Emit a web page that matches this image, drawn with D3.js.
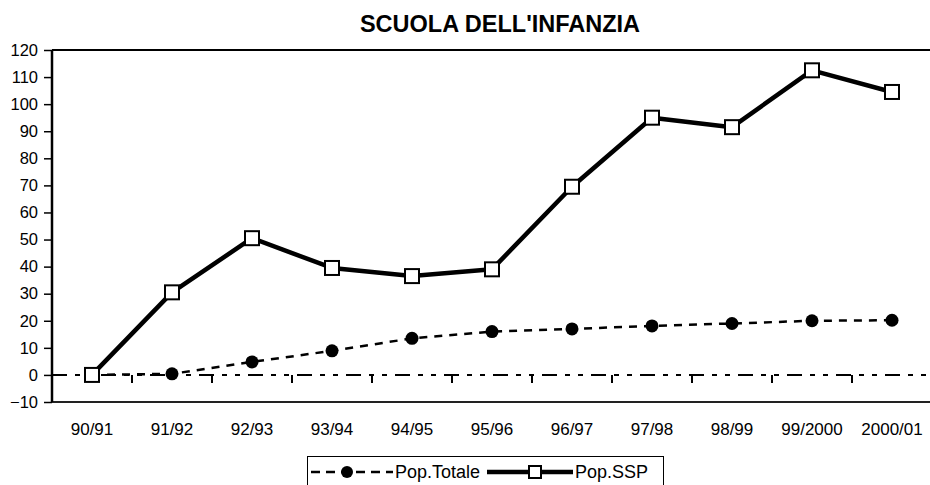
<!DOCTYPE html>
<html>
<head>
<meta charset="utf-8">
<script src="https://cdn.jsdelivr.net/npm/d3@7"></script>
<style>
  body { margin: 0; background: #fff; }
  svg { display: block; font-family: Arial, "Liberation Sans", sans-serif; }
</style>
</head>
<body>
<svg id="chart" width="930" height="485"></svg>
<script>
const categories = ['90/91', '91/92', '92/93', '93/94', '94/95', '95/96', '96/97', '97/98', '98/99', '99/2000', '2000/01'];
const popTotale = [0, 0.4, 4.8, 8.9, 13.5, 16, 17, 18.1, 19, 20, 20.2];
const popSSP = [0, 30.5, 50.5, 39.5, 36.5, 39, 69.5, 95, 91.5, 112.5, 104.5];
const yTicks = d3.range(-10, 121, 10);

const svg = d3.select('#chart');
const margin = { top: 50, right: -2, bottom: 83, left: 52 };
const width = 930 - margin.left - margin.right;
const height = 485 - margin.top - margin.bottom;

const x = d3.scaleBand().domain(categories).range([margin.left, margin.left + width]).padding(0);
const y = d3.scaleLinear().domain([-10, 120]).range([margin.top + height, margin.top]);
const cx = d => x(d) + x.bandwidth() / 2;

// title
svg.append('text')
  .attr('x', 500)
  .attr('y', 32)
  .attr('text-anchor', 'middle')
  .style('font-size', '23.5px')
  .style('font-weight', 'bold')
  .text("SCUOLA DELL'INFANZIA");

// plot frame: top and bottom lines
svg.append('line')
  .attr('x1', margin.left).attr('x2', 930)
  .attr('y1', y(120)).attr('y2', y(120))
  .attr('stroke', '#000').attr('stroke-width', 2);
svg.append('line')
  .attr('x1', margin.left).attr('x2', 930)
  .attr('y1', y(-10)).attr('y2', y(-10))
  .attr('stroke', '#222').attr('stroke-width', 2);

// y axis
const yAxis = svg.append('g')
  .attr('transform', `translate(${margin.left},0)`)
  .call(d3.axisLeft(y).tickValues(yTicks).tickSize(8).tickPadding(6));
yAxis.select('.domain').attr('stroke', '#000').attr('stroke-width', 2.5).attr('d', `M0,${y(-10)}V${y(120)}`);
yAxis.selectAll('.tick line').attr('stroke', '#000').attr('stroke-width', 1.5);
yAxis.selectAll('.tick text')
  .style('font-size', '16.5px')
  .style('font-family', 'Arial, "Liberation Sans", sans-serif')
  .attr('fill', '#000');

// category axis along zero (dash-dot-dot) with ticks at band boundaries
svg.append('line')
  .attr('x1', margin.left).attr('x2', 930)
  .attr('y1', y(0)).attr('y2', y(0))
  .attr('stroke', '#000').attr('stroke-width', 2)
  .attr('stroke-dasharray', '15,8,5,8,5,8');
svg.append('g')
  .selectAll('line')
  .data(categories.slice(1))
  .join('line')
  .attr('x1', d => x(d)).attr('x2', d => x(d))
  .attr('y1', y(0)).attr('y2', y(0) + 8)
  .attr('stroke', '#000').attr('stroke-width', 2);

// category labels
svg.append('g')
  .selectAll('text')
  .data(categories)
  .join('text')
  .attr('x', d => cx(d))
  .attr('y', 435)
  .attr('text-anchor', 'middle')
  .style('font-size', '17px')
  .text(d => d);

const line = d3.line().x((d, i) => cx(categories[i])).y(d => y(d));

// Pop.Totale: dashed line with filled dots
svg.append('path')
  .datum(popTotale)
  .attr('d', line)
  .attr('fill', 'none')
  .attr('stroke', '#000')
  .attr('stroke-width', 2.5)
  .attr('stroke-dasharray', '8,7');
svg.append('g')
  .selectAll('circle')
  .data(popTotale)
  .join('circle')
  .attr('cx', (d, i) => cx(categories[i]))
  .attr('cy', d => y(d))
  .attr('r', 6.5)
  .attr('fill', '#000');

// Pop.SSP: thick line with open squares
svg.append('path')
  .datum(popSSP)
  .attr('d', line)
  .attr('fill', 'none')
  .attr('stroke', '#000')
  .attr('stroke-width', 4.5)
  .attr('stroke-linejoin', 'round');
svg.append('g')
  .selectAll('rect')
  .data(popSSP)
  .join('rect')
  .attr('x', (d, i) => cx(categories[i]) - 7)
  .attr('y', d => y(d) - 7)
  .attr('width', 14)
  .attr('height', 14)
  .attr('fill', '#fff')
  .attr('stroke', '#000')
  .attr('stroke-width', 2);

// legend
const legend = svg.append('g');
legend.append('rect')
  .attr('x', 307.5).attr('y', 456.5)
  .attr('width', 356).attr('height', 34)
  .attr('fill', '#fff').attr('stroke', '#000').attr('stroke-width', 1);
const ly = 472;
legend.append('line')
  .attr('x1', 311).attr('x2', 393).attr('y1', ly).attr('y2', ly)
  .attr('stroke', '#000').attr('stroke-width', 2.5).attr('stroke-dasharray', '9,6');
legend.append('circle').attr('cx', 347).attr('cy', ly).attr('r', 6).attr('fill', '#000');
legend.append('text').attr('x', 395).attr('y', 478).style('font-size', '18px').text('Pop.Totale');
legend.append('line')
  .attr('x1', 487).attr('x2', 573).attr('y1', ly).attr('y2', ly)
  .attr('stroke', '#000').attr('stroke-width', 4.5);
legend.append('rect')
  .attr('x', 529).attr('y', ly - 6).attr('width', 12).attr('height', 12)
  .attr('fill', '#fff').attr('stroke', '#000').attr('stroke-width', 2);
legend.append('text').attr('x', 575).attr('y', 478).style('font-size', '18px').text('Pop.SSP');
</script>
</body>
</html>
